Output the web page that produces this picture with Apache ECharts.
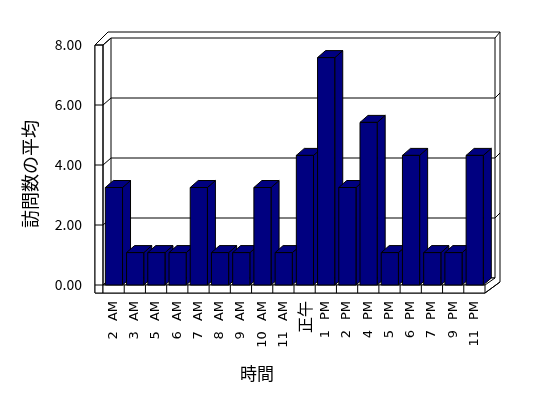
<!DOCTYPE html>
<html>
<head>
<meta charset="utf-8">
<script src="https://cdn.jsdelivr.net/npm/echarts@6/dist/echarts.min.js"></script>
<style>
  html, body { margin: 0; padding: 0; background: #fff; }
  #container { width: 548px; height: 398px; }
</style>
</head>
<body>
<div id="container"></div>
<script>
var hours = ['2 AM', '3 AM', '5 AM', '6 AM', '7 AM', '8 AM', '9 AM', '10 AM', '11 AM', '正午',
             '1 PM', '2 PM', '4 PM', '5 PM', '6 PM', '7 PM', '9 PM', '11 PM'];
var avgVisits = [3.25, 1.08, 1.08, 1.08, 3.25, 1.08, 1.08, 3.25, 1.08, 4.32,
                 7.58, 3.25, 5.42, 1.08, 4.32, 1.08, 1.08, 4.32];
var yTicks = [0, 2, 4, 6, 8];

var DX = 8, DY = -7;   // depth offset of the fake 3d
var navy = '#000080';
var lineStyle = { stroke: '#000', lineWidth: 1, fill: null };

function ln(x1, y1, x2, y2) {
    return { type: 'line', shape: { x1: x1, y1: y1, x2: x2, y2: y2 }, style: lineStyle };
}

// walls, floor and grid lines
function renderFrame(params, api) {
    var cs = params.coordSys;
    var L = cs.x, R = cs.x + cs.width, T = cs.y, B = cs.y + cs.height;
    var kids = [];
    // outer slab
    kids.push({ type: 'polygon', shape: { points: [[L - 8, T], [L + 5, T - 13], [R + 15, T - 13], [R + 15, B - 3], [R, B + 8], [L - 8, B + 8]] },
        style: { fill: '#fff', stroke: '#000', lineWidth: 1 } });
    // left wall front edge
    kids.push({ type: 'rect', shape: { x: L - 8, y: T, width: 8, height: cs.height + 8 }, style: { fill: '#fff', stroke: '#000', lineWidth: 1 } });
    // back wall
    kids.push({ type: 'rect', shape: { x: L + DX, y: T + DY, width: cs.width + 2, height: cs.height }, style: { fill: '#fff', stroke: '#000', lineWidth: 1 } });
    kids.push(ln(L, T, L + DX, T + DY));
    kids.push(ln(L, T, L, B));
    kids.push(ln(R + DX + 2, T + DY, R + 15, T - 13));
    yTicks.forEach(function (v) {
        var y = api.coord([0, v])[1];
        kids.push(ln(L - 8, y, L, y));
        kids.push(ln(L, y, L + DX, y + DY));
        if (v > 0 && v < 8) {
            kids.push(ln(L + DX, y + DY, R + DX + 2, y + DY));
            kids.push(ln(R + DX + 2, y + DY, R + 15, y + DY - 5));
        }
    });
    // floor
    kids.push({ type: 'polygon', shape: { points: [[L, B], [L + DX, B + DY], [R + DX + 2, B + DY], [R, B]] }, style: { fill: '#fff', stroke: '#000', lineWidth: 1 } });
    kids.push({ type: 'rect', shape: { x: L, y: B, width: cs.width, height: 8 }, style: { fill: '#fff', stroke: '#000', lineWidth: 1 } });
    var bw = api.size([1, 0])[0];
    for (var i = 1; i < hours.length; i++) {
        var x = L + bw * i;
        kids.push(ln(x, B, x, B + 8));
    }
    kids.push(ln(R, B + 8, R + 15, B - 3));
    return { type: 'group', children: kids };
}

function renderBar(params, api) {
    var bw = api.size([1, 0])[0];
    var c = api.coord([api.value(0), api.value(1)]);
    var b = api.coord([api.value(0), 0]);
    var x0 = c[0] - bw / 2 + bw * 0.11;
    var x1 = c[0] - bw / 2 + bw * 0.92;
    var yt = c[1], yb = b[1];
    var st = { fill: navy, stroke: '#000', lineWidth: 1 };
    return {
        type: 'group',
        children: [
            { type: 'polygon', shape: { points: [[x1, yt], [x1 + DX, yt + DY], [x1 + DX, yb + DY], [x1, yb]] }, style: st },
            { type: 'polygon', shape: { points: [[x0, yt], [x0 + DX, yt + DY], [x1 + DX, yt + DY], [x1, yt]] }, style: st },
            { type: 'rect', shape: { x: x0, y: yt, width: x1 - x0, height: yb - yt }, style: st }
        ]
    };
}

var myChart = echarts.init(document.getElementById('container'));
var option = {
    backgroundColor: '#fff',
    animation: false,
    textStyle: { fontFamily: '"Noto Sans CJK JP", "Noto Sans", sans-serif' },
    grid: { left: 103, right: 63, top: 45, bottom: 113 },
    xAxis: {
        type: 'category',
        data: hours,
        name: '時間',
        nameLocation: 'middle',
        nameGap: 80,
        nameTextStyle: { fontSize: 17, color: '#000', padding: [0, 74, 0, 0] },
        axisLine: { show: false },
        axisTick: { show: false },
        axisLabel: {
            rotate: 90, margin: 16, fontSize: 13, color: '#000', interval: 0,
            fontFamily: '"DejaVu Sans", sans-serif',
            formatter: function (v) {
                if (v.indexOf(' ') < 0) return '{cjk|' + v + '}';
                return v.split(' ').join('{sp| }');
            },
            rich: {
                sp: { width: 10, fontSize: 13 },
                cjk: { fontSize: 16, fontFamily: '"Noto Sans CJK JP", sans-serif', color: '#000' }
            }
        }
    },
    yAxis: {
        type: 'value',
        min: 0,
        max: 8,
        interval: 2,
        name: '訪問数の平均',
        nameLocation: 'middle',
        nameGap: 64,
        nameTextStyle: { fontSize: 18, color: '#000', padding: [0, 18, 0, 0] },
        axisLine: { show: false },
        axisTick: { show: false },
        splitLine: { show: false },
        axisLabel: { margin: 21, fontSize: 14, color: '#000', formatter: function (v) { return v.toFixed(2); } }
    },
    series: [
        { type: 'custom', z: 1, renderItem: renderFrame, data: [[0, 0]], silent: true },
        { type: 'custom', z: 2, renderItem: renderBar,
          data: avgVisits.map(function (v, i) { return [i, v]; }) }
    ]
};
myChart.setOption(option);
</script>
</body>
</html>
